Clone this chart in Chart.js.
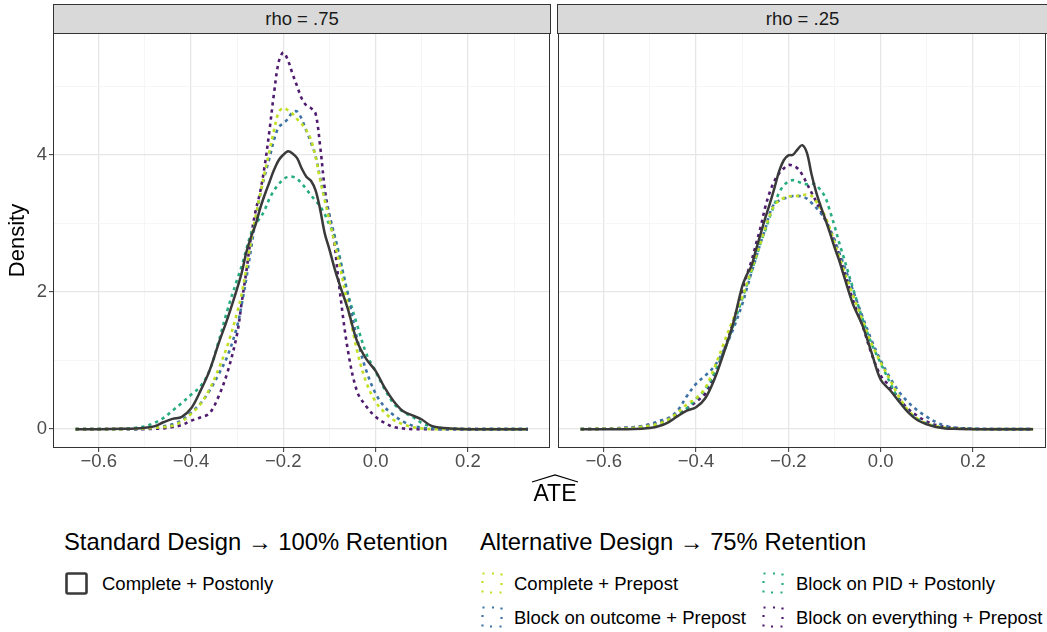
<!DOCTYPE html>
<html>
<head>
<meta charset="utf-8">
<script src="https://cdn.jsdelivr.net/npm/chart.js@4.4.1/dist/chart.umd.min.js"></script>
<style>
    body { margin: 0; background: #fff; width: 1047px; height: 632px; position: relative; overflow: hidden;
           font-family: "Liberation Sans", Arial, sans-serif; }
    .strip { position: absolute; top: 4px; height: 30px; box-sizing: border-box; background: #d9d9d9;
             border: 1px solid #333; font-size: 18.5px; color: #1a1a1a; text-align: center; line-height: 28px; }
    canvas { position: absolute; }
    .txt { position: absolute; line-height: 1; white-space: nowrap; }
    .lgTitle { font-size: 23.8px; color: #000; }
    .lgLabel { font-size: 18.5px; color: #000; }
    .key { position: absolute; }
</style>
</head>
<body>
<div class="strip" style="left:53px;width:498px;">rho = .75</div>
<div class="strip" style="left:557px;width:491px;">rho = .25</div>
<canvas id="leftPanel" width="552" height="470" style="left:0;top:32px;"></canvas>
<canvas id="rightPanel" width="491" height="470" style="left:556px;top:32px;"></canvas>

<svg class="key" style="left:528px;top:472px;" width="54" height="14">
    <polyline points="4,10 27,3 50,10" fill="none" stroke="#000" stroke-width="1.2"/>
</svg>
<div class="txt" style="left:505px;top:482px;width:100px;text-align:center;font-size:23px;">ATE</div>

<div class="txt lgTitle" style="left:64px;top:530px;">Standard Design → 100% Retention</div>
<div class="txt lgTitle" style="left:480px;top:530px;">Alternative Design → 75% Retention</div>
<div id="legendItems"></div>

<script>
// ATE grid (x) shared by every density curve
const ateGrid = [-0.65, -0.60, -0.55, -0.52, -0.50, -0.48, -0.46, -0.44, -0.42, -0.40, -0.38, -0.36, -0.34, -0.32,
    -0.30, -0.29, -0.28, -0.27, -0.26, -0.25, -0.24, -0.23, -0.22, -0.21, -0.20, -0.19, -0.18, -0.17, -0.16, -0.15,
    -0.14, -0.13, -0.12, -0.11, -0.10, -0.09, -0.08, -0.06, -0.04, -0.02, 0.00, 0.02, 0.04, 0.06, 0.08, 0.10, 0.12,
    0.14, 0.16, 0.20, 0.25, 0.33];

// rho = .75
const rho75Postonly = [0, 0, 0.005, 0.01, 0.02, 0.04, 0.10, 0.15, 0.18, 0.30, 0.55, 0.85, 1.25, 1.63,
    2.05, 2.28, 2.58, 2.80, 2.98, 3.22, 3.42, 3.60, 3.78, 3.92, 4.00, 4.05, 4.02, 3.95, 3.80, 3.68,
    3.62, 3.48, 3.20, 2.85, 2.62, 2.37, 2.15, 1.75, 1.28, 1.02, 0.85, 0.60, 0.40, 0.26, 0.20, 0.14, 0.05,
    0.02, 0.01, 0, 0, 0];
const rho75Prepost = [0, 0, 0, 0.005, 0.01, 0.02, 0.03, 0.05, 0.11, 0.22, 0.36, 0.58, 0.88, 1.24,
    1.70, 1.98, 2.35, 2.73, 3.10, 3.42, 3.75, 4.05, 4.36, 4.62, 4.68, 4.65, 4.60, 4.52, 4.45, 4.36,
    4.22, 3.97, 3.63, 3.33, 3.04, 2.75, 2.46, 1.80, 1.14, 0.68, 0.40, 0.24, 0.13, 0.07, 0.03, 0.01, 0,
    0, 0, 0, 0, 0];
const rho75Outcome = [0, 0, 0, 0, 0.01, 0.02, 0.04, 0.07, 0.13, 0.24, 0.37, 0.56, 0.80, 1.08,
    1.50, 1.82, 2.20, 2.62, 3.05, 3.42, 3.70, 3.95, 4.22, 4.40, 4.46, 4.52, 4.62, 4.63, 4.52, 4.35,
    4.18, 3.98, 3.66, 3.38, 3.12, 2.85, 2.55, 1.95, 1.32, 0.85, 0.52, 0.32, 0.20, 0.11, 0.05, 0.02, 0.01,
    0, 0, 0, 0, 0];
const rho75Pid = [0, 0, 0.005, 0.02, 0.04, 0.09, 0.16, 0.27, 0.38, 0.50, 0.62, 0.85, 1.28, 1.76,
    2.18, 2.38, 2.62, 2.85, 2.99, 3.08, 3.20, 3.36, 3.48, 3.57, 3.64, 3.68, 3.68, 3.65, 3.58, 3.50,
    3.41, 3.33, 3.25, 3.13, 2.98, 2.84, 2.58, 1.98, 1.52, 1.10, 0.84, 0.58, 0.37, 0.25, 0.18, 0.09, 0.04,
    0.02, 0.01, 0, 0, 0];
const rho75Everything = [0, 0, 0, 0, 0, 0.005, 0.01, 0.03, 0.06, 0.12, 0.17, 0.23, 0.48, 0.85,
    1.39, 1.85, 2.30, 2.80, 3.18, 3.46, 3.85, 4.35, 4.90, 5.35, 5.49, 5.38, 5.18, 5.00, 4.82, 4.72,
    4.68, 4.60, 4.12, 3.50, 3.10, 2.75, 2.15, 1.15, 0.55, 0.33, 0.18, 0.09, 0.03, 0.01, 0, 0, 0,
    0, 0, 0, 0, 0];

// rho = .25
const rho25Postonly = [0, 0, 0, 0.005, 0.015, 0.045, 0.10, 0.19, 0.27, 0.32, 0.45, 0.73, 1.11, 1.53,
    2.08, 2.25, 2.38, 2.62, 2.85, 3.08, 3.29, 3.52, 3.76, 3.92, 3.99, 4.00, 4.08, 4.14, 4.03, 3.72,
    3.46, 3.25, 3.06, 2.86, 2.65, 2.46, 2.24, 1.82, 1.52, 1.12, 0.72, 0.57, 0.40, 0.24, 0.13, 0.07, 0.03,
    0.01, 0.005, 0, 0, 0];
const rho25Prepost = [0, 0.005, 0.01, 0.03, 0.05, 0.08, 0.14, 0.24, 0.36, 0.45, 0.60, 0.90, 1.25, 1.60,
    1.92, 2.12, 2.32, 2.52, 2.72, 2.93, 3.12, 3.27, 3.33, 3.37, 3.39, 3.40, 3.40, 3.41, 3.42, 3.40,
    3.32, 3.22, 3.10, 2.92, 2.72, 2.52, 2.32, 1.95, 1.60, 1.25, 0.97, 0.72, 0.47, 0.27, 0.15, 0.08, 0.04,
    0.02, 0.01, 0, 0, 0];
const rho25Outcome = [0, 0.005, 0.02, 0.04, 0.07, 0.12, 0.16, 0.27, 0.48, 0.66, 0.78, 0.92, 1.15, 1.45,
    1.82, 2.05, 2.28, 2.50, 2.72, 2.92, 3.15, 3.29, 3.33, 3.36, 3.38, 3.40, 3.40, 3.39, 3.36, 3.30,
    3.23, 3.15, 3.05, 2.92, 2.76, 2.58, 2.40, 2.02, 1.65, 1.30, 1.00, 0.75, 0.54, 0.39, 0.27, 0.18, 0.10,
    0.05, 0.02, 0.005, 0, 0];
const rho25Pid = [0, 0.005, 0.015, 0.03, 0.05, 0.08, 0.13, 0.20, 0.30, 0.44, 0.58, 0.82, 1.12, 1.50,
    1.90, 2.10, 2.30, 2.50, 2.72, 2.90, 3.10, 3.28, 3.45, 3.55, 3.61, 3.63, 3.61, 3.58, 3.57, 3.58,
    3.56, 3.48, 3.38, 3.18, 2.96, 2.72, 2.50, 2.05, 1.62, 1.25, 0.96, 0.68, 0.42, 0.25, 0.15, 0.08, 0.04,
    0.02, 0.01, 0.005, 0, 0];
const rho25Everything = [0, 0.005, 0.02, 0.04, 0.07, 0.10, 0.15, 0.21, 0.30, 0.40, 0.52, 0.80, 1.14, 1.55,
    2.02, 2.25, 2.45, 2.70, 2.95, 3.24, 3.46, 3.62, 3.73, 3.80, 3.85, 3.84, 3.80, 3.71, 3.58, 3.45,
    3.32, 3.18, 3.05, 2.90, 2.74, 2.55, 2.32, 1.88, 1.52, 1.10, 0.78, 0.62, 0.44, 0.29, 0.19, 0.11, 0.06,
    0.03, 0.02, 0.005, 0, 0];

const designNames = ['Complete + Postonly', 'Complete + Prepost', 'Block on outcome + Prepost',
    'Block on PID + Postonly', 'Block on everything + Prepost'];
const designColors = ['#3a3a3a', '#c2df23', '#3d72a4', '#27ad81', '#4e1b6e'];

const xTicks = [-0.6, -0.5, -0.4, -0.3, -0.2, -0.1, 0.0, 0.1, 0.2, 0.3];
const xTickLabels = ['\u22120.6', '', '\u22120.4', '', '\u22120.2', '', '0.0', '', '0.2', ''];
const yTicks = [0, 1, 2, 3, 4, 5];
const yTickLabels = ['0', '', '2', '', '4', ''];

const tickFont = { family: '"Liberation Sans", Arial, sans-serif', size: 18.5, lineHeight: 1 };

const panelBorder = {
    id: 'panelBorder',
    afterDraw(chart) {
        const { ctx, chartArea: a } = chart;
        ctx.save();
        ctx.strokeStyle = '#333333';
        ctx.lineWidth = 1;
        ctx.strokeRect(Math.round(a.left) + 0.5, Math.round(a.top) + 0.5,
            Math.round(a.right - a.left) - 1, Math.round(a.bottom - a.top) - 1);
        ctx.restore();
    }
};

function gridStyle(labels, ticks) {
    const isMajor = ctx => labels[ticks.indexOf(ctx.tick.value)] !== '';
    return {
        color: ctx => isMajor(ctx) ? '#e6e6e6' : '#f2f2f2',
        lineWidth: ctx => isMajor(ctx) ? 1.3 : 0.7,
        tickColor: ctx => isMajor(ctx) ? '#333333' : 'rgba(0,0,0,0)',
        tickWidth: 1,
        tickLength: 4
    };
}

// keep the plotting area exactly where we want it (no label overhang padding)
function noOverhang(axis) {
    axis.paddingTop = 0;
    axis.paddingBottom = 0;
    axis.paddingLeft = 0;
    axis.paddingRight = 0;
}

function buildPanel(canvasId, series, opts) {
    const datasets = series.map((vals, i) => ({
        label: designNames[i],
        data: ateGrid.map((x, j) => ({ x: x, y: vals[j] })),
        borderColor: designColors[i],
        borderWidth: i === 0 ? 2.5 : 2.6,
        borderDash: i === 0 ? [] : [3.3, 4],
        pointRadius: 0,
        tension: 0.35,
        fill: false
    }));

    return new Chart(document.getElementById(canvasId).getContext('2d'), {
        type: 'line',
        data: { datasets },
        options: {
            responsive: false,
            animation: false,
            layout: { padding: { top: 1, right: opts.rightPad, bottom: 0, left: 0 } },
            plugins: { legend: { display: false }, tooltip: { enabled: false } },
            scales: {
                x: {
                    type: 'linear',
                    min: -0.699,
                    max: opts.xMax,
                    afterBuildTicks: axis => { axis.ticks = xTicks.map(v => ({ value: v })); },
                    afterFit: axis => { axis.height = 54; noOverhang(axis); },
                    grid: gridStyle(xTickLabels, xTicks),
                    border: { display: false },
                    ticks: {
                        autoSkip: false,
                        maxRotation: 0,
                        padding: 1,
                        color: '#4d4d4d',
                        font: tickFont,
                        callback: v => xTickLabels[xTicks.indexOf(v)]
                    }
                },
                y: {
                    type: 'linear',
                    min: -0.275,
                    max: 5.775,
                    afterBuildTicks: axis => { axis.ticks = yTicks.map(v => ({ value: v })); },
                    afterFit: axis => { axis.width = opts.yWidth; noOverhang(axis); },
                    grid: opts.showY ? gridStyle(yTickLabels, yTicks)
                        : Object.assign(gridStyle(yTickLabels, yTicks), { drawTicks: false }),
                    border: { display: false },
                    title: {
                        display: opts.showY,
                        text: 'Density',
                        color: '#000',
                        font: { family: '"Liberation Sans", Arial, sans-serif', size: 22 },
                        padding: { top: 5, bottom: 0 }
                    },
                    ticks: {
                        display: opts.showY,
                        padding: 2,
                        color: '#4d4d4d',
                        font: tickFont,
                        callback: v => yTickLabels[yTicks.indexOf(v)]
                    }
                }
            }
        },
        plugins: [panelBorder]
    });
}

buildPanel('leftPanel',
    [rho75Postonly, rho75Prepost, rho75Outcome, rho75Pid, rho75Everything],
    { xMax: 0.378, rightPad: 2, yWidth: 53, showY: true });
buildPanel('rightPanel',
    [rho25Postonly, rho25Prepost, rho25Outcome, rho25Pid, rho25Everything],
    { xMax: 0.358, rightPad: 1, yWidth: 2, showY: false });

// legend (keys and labels)
const legendSlots = [
    { left: 65, top: 572, textLeft: 102 },
    { left: 481, top: 572, textLeft: 514 },
    { left: 481, top: 606, textLeft: 514 },
    { left: 762, top: 572, textLeft: 796 },
    { left: 762, top: 606, textLeft: 796 }
];
const legendBox = document.getElementById('legendItems');
designNames.forEach((name, i) => {
    const s = legendSlots[i];
    const key = i === 0
        ? `<svg class="key" style="left:${s.left}px;top:${s.top}px" width="24" height="23">
             <rect x="1.5" y="1.5" width="20" height="20" rx="1.5" fill="none" stroke="${designColors[0]}" stroke-width="2.6"/></svg>`
        : `<svg class="key" style="left:${s.left}px;top:${s.top}px" width="24" height="23">
             <rect x="1.5" y="1.5" width="19" height="19" fill="none" stroke="${designColors[i]}" stroke-width="2.2"
                   stroke-dasharray="2 7.5"/></svg>`;
    legendBox.insertAdjacentHTML('beforeend', key +
        `<div class="txt lgLabel" style="left:${s.textLeft}px;top:${s.top + 3}px">${name}</div>`);
});
</script>
</body>
</html>
